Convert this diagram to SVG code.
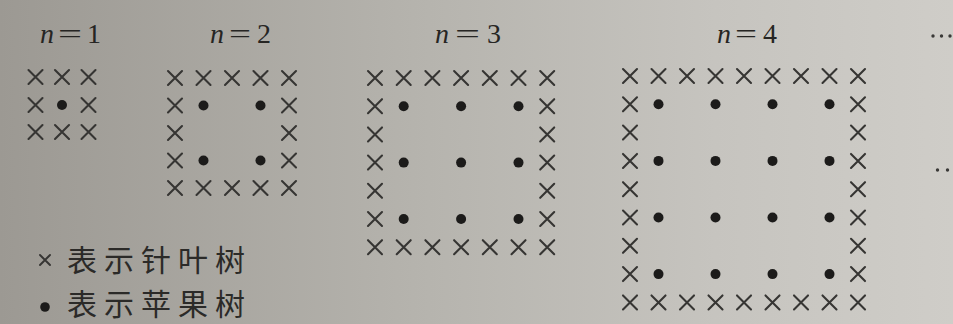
<svg xmlns="http://www.w3.org/2000/svg" xmlns:xlink="http://www.w3.org/1999/xlink" width="953" height="324" viewBox="0 0 953 324">
<defs>
<linearGradient id="bg" x1="0" y1="0" x2="1" y2="0">
<stop offset="0" stop-color="#9c9993"/>
<stop offset="0.45" stop-color="#b6b4ae"/>
<stop offset="0.75" stop-color="#c6c4bf"/>
<stop offset="1" stop-color="#cfcdc8"/>
</linearGradient>
<path id="x" d="M-7,-7L7,7M7,-7L-7,7" fill="none" stroke="#363533" stroke-width="2.1" stroke-linecap="round"/>
<circle id="d" r="5" fill="#1c1b1a"/>
<style>
.lbl{font-family:"Liberation Serif","Times New Roman",serif;font-size:28px;fill:#262523}
.it{font-style:italic}
.cjk{font-family:"Noto Sans CJK SC","Noto Sans CJK TC",sans-serif;font-size:30px;letter-spacing:7px;fill:#2b2a28}
.ell{fill:#3a3937}
</style>
</defs>
<rect width="953" height="324" fill="url(#bg)"/>

<g id="n1">
<text class="lbl it" x="40" y="43">n</text>
<text class="lbl" x="58" y="43" textLength="24" lengthAdjust="spacingAndGlyphs">=</text>
<text class="lbl" x="87" y="43">1</text>
<use href="#x" x="35.5" y="77"/><use href="#x" x="62" y="77"/><use href="#x" x="88.5" y="77"/>
<use href="#x" x="35.5" y="105"/><use href="#d" x="62" y="105"/><use href="#x" x="88.5" y="105"/>
<use href="#x" x="35.5" y="132"/><use href="#x" x="62" y="132"/><use href="#x" x="88.5" y="132"/>
</g>

<g id="n2">
<text class="lbl it" x="210" y="43">n</text>
<text class="lbl" x="229" y="43" textLength="22" lengthAdjust="spacingAndGlyphs">=</text>
<text class="lbl" x="257" y="43">2</text>
<use href="#x" x="175" y="78"/><use href="#x" x="203.5" y="78"/><use href="#x" x="232" y="78"/><use href="#x" x="260.5" y="78"/><use href="#x" x="289" y="78"/>
<use href="#x" x="175" y="188"/><use href="#x" x="203.5" y="188"/><use href="#x" x="232" y="188"/><use href="#x" x="260.5" y="188"/><use href="#x" x="289" y="188"/>
<use href="#x" x="175" y="105.5"/><use href="#x" x="175" y="133"/><use href="#x" x="175" y="160.5"/>
<use href="#x" x="289" y="105.5"/><use href="#x" x="289" y="133"/><use href="#x" x="289" y="160.5"/>
<use href="#d" x="203.5" y="105.5"/><use href="#d" x="260.5" y="105.5"/>
<use href="#d" x="203.5" y="160.5"/><use href="#d" x="260.5" y="160.5"/>
</g>

<g id="n3">
<text class="lbl it" x="435" y="43">n</text>
<text class="lbl" x="455" y="43" textLength="25" lengthAdjust="spacingAndGlyphs">=</text>
<text class="lbl" x="487" y="43">3</text>
<use href="#x" x="375" y="78"/><use href="#x" x="403.7" y="78"/><use href="#x" x="432.4" y="78"/><use href="#x" x="461.1" y="78"/><use href="#x" x="489.8" y="78"/><use href="#x" x="518.5" y="78"/><use href="#x" x="547.2" y="78"/>
<use href="#x" x="375" y="247.2"/><use href="#x" x="403.7" y="247.2"/><use href="#x" x="432.4" y="247.2"/><use href="#x" x="461.1" y="247.2"/><use href="#x" x="489.8" y="247.2"/><use href="#x" x="518.5" y="247.2"/><use href="#x" x="547.2" y="247.2"/>
<use href="#x" x="375" y="106.2"/><use href="#x" x="375" y="134.4"/><use href="#x" x="375" y="162.6"/><use href="#x" x="375" y="190.8"/><use href="#x" x="375" y="219"/>
<use href="#x" x="547.2" y="106.2"/><use href="#x" x="547.2" y="134.4"/><use href="#x" x="547.2" y="162.6"/><use href="#x" x="547.2" y="190.8"/><use href="#x" x="547.2" y="219"/>
<use href="#d" x="403.7" y="106.2"/><use href="#d" x="461.1" y="106.2"/><use href="#d" x="518.5" y="106.2"/>
<use href="#d" x="403.7" y="162.6"/><use href="#d" x="461.1" y="162.6"/><use href="#d" x="518.5" y="162.6"/>
<use href="#d" x="403.7" y="219"/><use href="#d" x="461.1" y="219"/><use href="#d" x="518.5" y="219"/>
</g>

<g id="n4">
<text class="lbl it" x="717" y="43">n</text>
<text class="lbl" x="735" y="43" textLength="22" lengthAdjust="spacingAndGlyphs">=</text>
<text class="lbl" x="763" y="43">4</text>
<use href="#x" x="630" y="76"/><use href="#x" x="658.5" y="76"/><use href="#x" x="687" y="76"/><use href="#x" x="715.5" y="76"/><use href="#x" x="744" y="76"/><use href="#x" x="772.5" y="76"/><use href="#x" x="801" y="76"/><use href="#x" x="829.5" y="76"/><use href="#x" x="858" y="76"/>
<use href="#x" x="630" y="302.4"/><use href="#x" x="658.5" y="302.4"/><use href="#x" x="687" y="302.4"/><use href="#x" x="715.5" y="302.4"/><use href="#x" x="744" y="302.4"/><use href="#x" x="772.5" y="302.4"/><use href="#x" x="801" y="302.4"/><use href="#x" x="829.5" y="302.4"/><use href="#x" x="858" y="302.4"/>
<use href="#x" x="630" y="104.3"/><use href="#x" x="630" y="132.6"/><use href="#x" x="630" y="160.9"/><use href="#x" x="630" y="189.2"/><use href="#x" x="630" y="217.5"/><use href="#x" x="630" y="245.8"/><use href="#x" x="630" y="274.1"/>
<use href="#x" x="858" y="104.3"/><use href="#x" x="858" y="132.6"/><use href="#x" x="858" y="160.9"/><use href="#x" x="858" y="189.2"/><use href="#x" x="858" y="217.5"/><use href="#x" x="858" y="245.8"/><use href="#x" x="858" y="274.1"/>
<use href="#d" x="658.5" y="104.3"/><use href="#d" x="715.5" y="104.3"/><use href="#d" x="772.5" y="104.3"/><use href="#d" x="829.5" y="104.3"/>
<use href="#d" x="658.5" y="160.9"/><use href="#d" x="715.5" y="160.9"/><use href="#d" x="772.5" y="160.9"/><use href="#d" x="829.5" y="160.9"/>
<use href="#d" x="658.5" y="217.5"/><use href="#d" x="715.5" y="217.5"/><use href="#d" x="772.5" y="217.5"/><use href="#d" x="829.5" y="217.5"/>
<use href="#d" x="658.5" y="274.1"/><use href="#d" x="715.5" y="274.1"/><use href="#d" x="772.5" y="274.1"/><use href="#d" x="829.5" y="274.1"/>
</g>

<g id="ellipsis">
<circle class="ell" cx="933" cy="36" r="1.7"/><circle class="ell" cx="941.5" cy="36" r="1.7"/><circle class="ell" cx="950" cy="36" r="1.7"/>
<circle class="ell" cx="937.5" cy="170" r="1.7"/><circle class="ell" cx="947.5" cy="170" r="1.7"/>
</g>

<g id="legend">
<path d="M40,255L50,265M50,255L40,265" fill="none" stroke="#363533" stroke-width="1.9" stroke-linecap="round"/>
<text class="cjk" x="67" y="271">表示针叶树</text>
<circle cx="45" cy="307" r="4.8" fill="#1c1b1a"/>
<text class="cjk" x="67" y="315">表示苹果树</text>
</g>

<g id="connectors"/>
</svg>
